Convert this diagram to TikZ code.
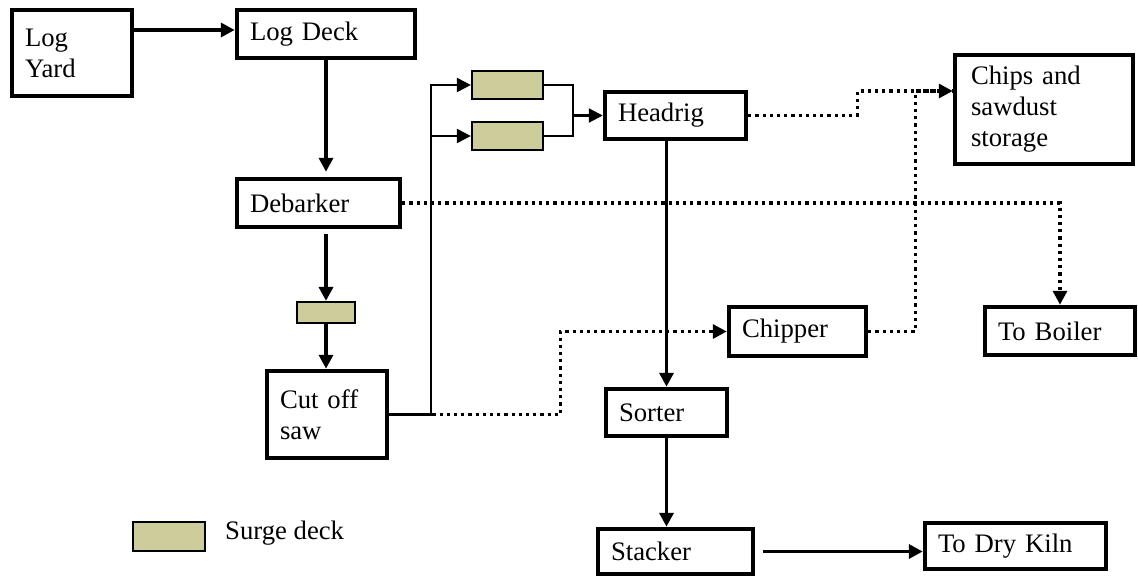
\documentclass[tikz,border=0pt]{standalone}
\usepackage{fontspec}
\setmainfont{Liberation Serif}
\usetikzlibrary{arrows.meta}
\definecolor{surge}{RGB}{205,205,155}
\begin{document}
\begin{tikzpicture}[x=1pt,y=-1pt,
 lbl/.style={font=\fontsize{26.7}{31}\selectfont},
 box/.style={lbl, draw, line width=4.5pt, align=left, inner xsep=13pt, inner ysep=0pt},
 surgebox/.style={draw, fill=surge, line width=1.8pt, inner sep=0pt},
 tip/.style={-{Triangle[length=14pt,width=14pt]}},
 arr/.style={line width=3.5pt, tip},
 thinline/.style={line width=2.3pt},
 thinarr/.style={line width=2.3pt, tip},
 dots/.style={line width=3.2pt, line cap=butt, dash pattern=on 3.2pt off 4pt},
 dotarr/.style={dots, tip}
]
\useasboundingbox (0,0) rectangle (1138,578);

% boxes
\node[box, minimum width=120pt, minimum height=86pt, text width=94pt] (yard) at (72,53) {Log\\Yard};
\node[box, minimum width=178pt, minimum height=48pt, text width=152pt] (deck) at (326,34) {Log Deck};
\node[box, minimum width=163pt, minimum height=48pt, text width=137pt] (debarker) at (318.5,203) {Debarker};
\node[surgebox, minimum width=58.5pt, minimum height=21.5pt] (surge1) at (326,312.5) {};
\node[box, minimum width=120pt, minimum height=87pt, text width=94pt] (cutoff) at (327,414.5) {Cut off\\saw};
\node[surgebox, minimum width=71.5pt, minimum height=28.5pt] (surgeA) at (507.5,85) {};
\node[surgebox, minimum width=71.5pt, minimum height=28.5pt] (surgeB) at (507.5,136) {};
\node[box, minimum width=141pt, minimum height=47pt, text width=115pt] (headrig) at (675.5,115.5) {Headrig};
\node[box, minimum width=178pt, minimum height=109pt, text width=146pt, inner xsep=16pt] (chips) at (1044,109.5) {Chips and\\sawdust\\storage};
\node[box, minimum width=137pt, minimum height=49pt, text width=111pt] (chipper) at (797.5,331.5) {Chipper};
\node[box, minimum width=150pt, minimum height=48pt, text width=124pt] (boiler) at (1060,331) {To Boiler};
\node[box, minimum width=121pt, minimum height=47pt, text width=95pt] (sorter) at (666.5,412.5) {Sorter};
\node[box, minimum width=155pt, minimum height=45pt, text width=129pt] (stacker) at (675.5,551.5) {Stacker};
\node[box, minimum width=181pt, minimum height=46pt, text width=155pt] (drykiln) at (1015.5,546) {To Dry Kiln};

% legend
\node[surgebox, minimum width=72pt, minimum height=29pt] (leg) at (169,536.5) {};
\node[lbl, anchor=west, inner sep=0pt] (legtext) at (225,533) {Surge deck};

% solid connectors
\draw[arr] ([yshift=23pt]yard.east) -- ([yshift=4pt]deck.west);
\draw[arr, shorten >=5pt] (deck.south) -- (deck.south |- debarker.north);
\draw[arr, shorten <=5pt] (surge1.north |- debarker.south) -- (surge1.north);
\draw[arr] (surge1.south) -- (surge1.south |- cutoff.north);

\coordinate (sp) at (431,0);
\draw[thinarr] (cutoff.east) -| (sp |- surgeA.west) -- (surgeA.west);
\draw[thinarr] (sp |- surgeB.west) -- (surgeB.west);

\coordinate (mg) at (573,0);
\draw[thinline] (surgeA.east) -| (mg |- headrig.west);
\draw[thinline] (surgeB.east) -| (mg |- headrig.west);
\draw[thinarr] (mg |- headrig.west) -- (headrig.west);

\draw[arr] (sorter.north |- headrig.south) -- (sorter.north);
\draw[arr] (sorter.south) -- (sorter.south |- stacker.north);
\draw[arr, shorten <=8pt] (stacker.east) -- (stacker.east -| drykiln.west);

% dotted connectors
\draw[dotarr] (cutoff.east) -- ++(171,0) |- (chipper.west);
\draw[dotarr] (headrig.east) -- ++(109,0) |- ([yshift=18.5pt]chips.west);
\draw[dots] (chipper.east) -- ++(47,0) |- ([yshift=18.5pt]chips.west);
\draw[dotarr] (debarker.east) -| (boiler.north);
\end{tikzpicture}
\end{document}
